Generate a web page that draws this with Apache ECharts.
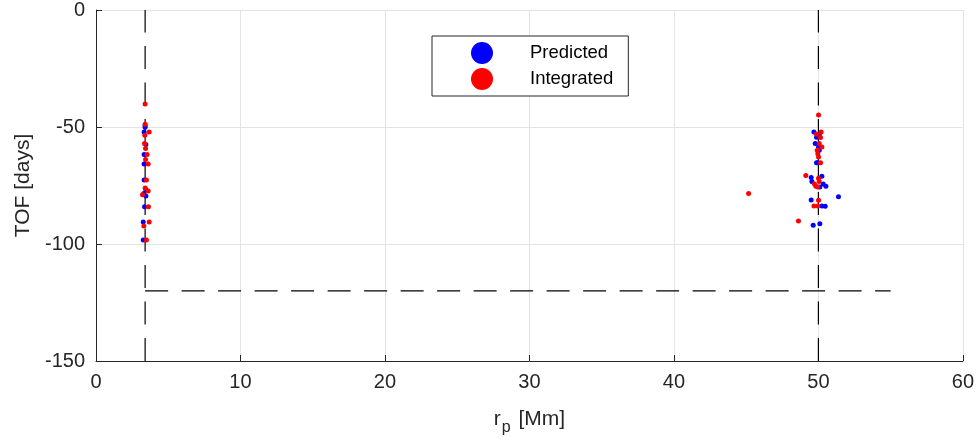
<!DOCTYPE html>
<html>
<head>
<meta charset="utf-8">
<script src="https://cdn.jsdelivr.net/npm/echarts@6/dist/echarts.min.js"></script>
<style>
html,body{margin:0;padding:0;background:#fff;}
#c{width:977px;height:441px;}
</style>
</head>
<body>
<div id="c"></div>
<script>
// ---- data ----
var xTicks = [0, 10, 20, 30, 40, 50, 60];
var yTicks = [-150, -100, -50, 0];

var predictedX = [3.40, 3.40, 3.33, 3.45, 3.33, 3.33, 3.33, 3.45, 3.31, 3.45, 3.36, 3.27, 3.27,
  49.69, 50.06, 49.87, 49.78, 50.01, 50.06, 49.87, 49.96, 50.24, 49.50, 49.55, 50.33, 50.52, 50.10, 51.39, 49.50, 50.24, 50.47, 50.10, 49.64];
var predictedY = [-49.5, -50.1, -52.1, -57.5, -61.8, -65.8, -72.7, -76.7, -78.4, -79.5, -84.1, -90.6, -98.3,
  -52.1, -53.1, -54.4, -57.1, -58.5, -59.9, -65.3, -65.3, -71.0, -71.6, -73.3, -74.4, -75.3, -75.6, -79.8, -81.2, -83.8, -83.9, -91.3, -92.0];

var integratedX = [3.40, 3.40, 3.68, 3.38, 3.36, 3.43, 3.54, 3.43, 3.61, 3.49, 3.40, 3.61, 3.22, 3.63, 3.68, 3.31, 3.49,
  50.01, 50.19, 49.87, 50.15, 50.06, 50.24, 49.92, 49.96, 50.01, 50.15, 49.13, 50.01, 50.06, 49.73, 49.82, 49.96, 45.17, 50.01, 49.69, 49.96, 48.62];
var integratedY = [-40.2, -48.8, -52.1, -53.5, -57.1, -59.2, -61.8, -63.9, -65.8, -72.7, -76.1, -77.4, -79.0, -84.1, -90.6, -92.3, -98.3,
  -44.9, -52.1, -53.1, -54.5, -57.1, -58.5, -59.9, -61.4, -62.8, -65.3, -70.7, -71.9, -73.3, -74.4, -75.3, -75.6, -78.4, -81.3, -83.8, -83.8, -90.2];

// dashed reference lines
var vLine1X = [3.4, 3.4], vLine1Y = [-150, 0];
var vLine2X = [50, 50], vLine2Y = [-150, 0];
var hLineX = [3.4, 55], hLineY = [-120, -120];

function pairs(xs, ys) { return xs.map(function (x, i) { return [x, ys[i]]; }); }

var FONT = '"Liberation Sans", Arial, Helvetica, sans-serif';
var AX = '#262626';
var dashStyle = { color: '#000', width: 1.2, type: [23, 13.5] };

var chart = echarts.init(document.getElementById('c'), null, { renderer: 'canvas' });
chart.setOption({
  animation: false,
  backgroundColor: '#fff',
  textStyle: { fontFamily: FONT },
  grid: { left: 96, right: 14, top: 10, bottom: 71, containLabel: false },
  legend: {
    data: ['Predicted', 'Integrated'],
    orient: 'vertical',
    left: 432, top: 36,
    padding: [6, 15, 6, 39],
    itemWidth: 22, itemHeight: 22, itemGap: 4,
    icon: 'circle',
    borderColor: AX, borderWidth: 1, borderRadius: 0,
    backgroundColor: '#fff',
    textStyle: { fontSize: 18.5, color: '#000', fontFamily: FONT, padding: [0, 0, 0, 32] }
  },
  xAxis: {
    type: 'value', min: xTicks[0], max: xTicks[xTicks.length - 1], interval: 10,
    name: '{a|r}{s|p}{a| [Mm]}', nameLocation: 'middle', nameGap: 41,
    nameTextStyle: {
      rich: {
        a: { fontSize: 21, color: AX, fontFamily: FONT },
        s: { fontSize: 16, color: AX, fontFamily: FONT, padding: [18, 2, 0, 1] }
      }
    },
    axisLine: { show: true, onZero: false, lineStyle: { color: AX, width: 1 } },
    axisTick: { show: true, inside: true, length: 6, lineStyle: { color: AX } },
    axisLabel: { fontSize: 20, color: AX, margin: 11, fontFamily: FONT },
    splitLine: { show: true, lineStyle: { color: '#e3e3e3', width: 1 } }
  },
  yAxis: {
    type: 'value', min: yTicks[0], max: yTicks[yTicks.length - 1], interval: 50,
    name: 'TOF [days]', nameLocation: 'middle', nameGap: 61,
    nameTextStyle: { fontSize: 21, color: AX, fontFamily: FONT },
    axisLine: { show: true, onZero: false, lineStyle: { color: AX, width: 1 } },
    axisTick: { show: true, inside: true, length: 6, lineStyle: { color: AX } },
    axisLabel: { fontSize: 20, color: AX, margin: 11, fontFamily: FONT },
    splitLine: { show: true, lineStyle: { color: '#e3e3e3', width: 1 } }
  },
  series: [
    { type: 'line', name: 'v1', data: pairs(vLine1X, vLine1Y), symbol: 'none', silent: true, lineStyle: dashStyle, z: 2 },
    { type: 'line', name: 'v2', data: pairs(vLine2X, vLine2Y), symbol: 'none', silent: true, lineStyle: dashStyle, z: 2 },
    { type: 'line', name: 'h1', data: pairs(hLineX, hLineY), symbol: 'none', silent: true, lineStyle: dashStyle, z: 2 },
    { type: 'scatter', name: 'Predicted', data: pairs(predictedX, predictedY), symbolSize: 5,
      itemStyle: { color: '#0000ff', opacity: 1 }, z: 3 },
    { type: 'scatter', name: 'Integrated', data: pairs(integratedX, integratedY), symbolSize: 5,
      itemStyle: { color: '#ff0000', opacity: 1 }, z: 4 }
  ]
});
</script>
</body>
</html>
